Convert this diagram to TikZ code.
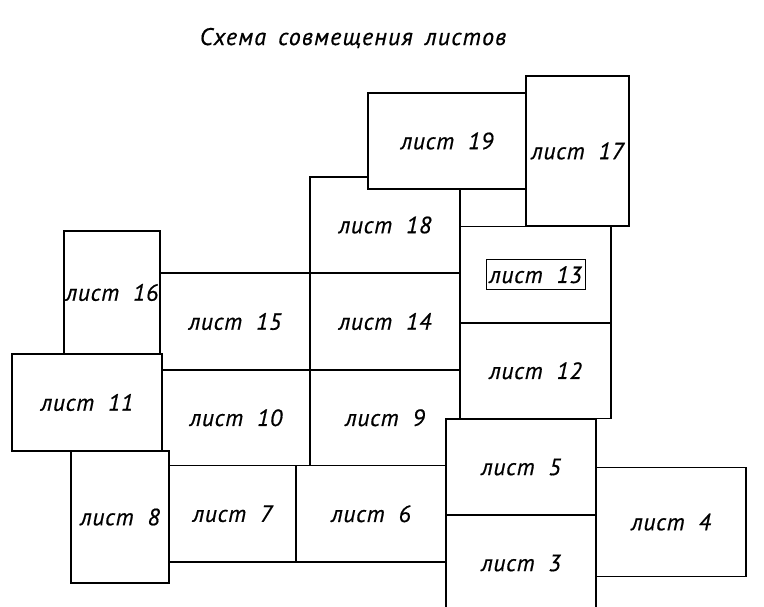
\documentclass[tikz,border=0pt]{standalone}
\usepackage{fontspec}
\newfontfamily\gost{PT Sans}[WordSpace=2.0, LetterSpace=3, FakeBold=0.6]
\newfontfamily\gostzag{PT Sans}[WordSpace=1.6, LetterSpace=5, FakeBold=0.6]
\usepackage{tikz}
\usetikzlibrary{positioning}

\begin{document}
\begin{tikzpicture}[x=1pt, y=-1pt,
    listok/.style={rectangle, draw=black, line width=1.1pt, fill=white, anchor=north west,
                   inner sep=0pt, outer sep=0pt, font=\gost\itshape\fontsize{23.5}{26}\selectfont},
    ramka/.style={rectangle, draw=black, line width=0.9pt, inner sep=0pt,
                  minimum width=99pt, minimum height=30pt, font=\gost\itshape\fontsize{23.5}{26}\selectfont}]
    \useasboundingbox (0,0) rectangle (764,606);
    \clip (0,0) rectangle (764,606);
    \node[font=\gostzag\itshape\fontsize{24}{26}\selectfont] (titul) at (353,38) {Схема совмещения листов};
    \node[listok, minimum width=96, minimum height=123] (l16) at (64,231) {лист 16};
    \node[listok, minimum width=150, minimum height=97] (l15) at (160,273) {лист 15};
    \node[listok, minimum width=150, minimum height=97] (l14) at (310,273) {лист 14};
    \node[listok, minimum width=150, minimum height=96] (l18) at (310,177) {лист 18};
    \node[listok, minimum width=158, minimum height=96] (l19) at (368,93) {лист 19};
    \node[listok, minimum width=103, minimum height=150] (l17) at (526,76) {лист 17};
    \node[listok, minimum width=151, minimum height=96.5] (l13) at (460,226.5) {};
    \node[ramka] (t13) at (l13.center) {лист 13};
    \node[listok, minimum width=151, minimum height=95.5] (l12) at (460,323) {лист 12};
    \node[listok, minimum width=150, minimum height=97] (l11) at (12,354) {лист 11};
    \node[listok, minimum width=148, minimum height=95.5] (l10) at (162,370) {лист 10};
    \node[listok, minimum width=150, minimum height=95.5] (l9) at (310,370) {лист 9};
    \node[listok, minimum width=98, minimum height=132] (l8) at (71,451) {лист 8};
    \node[listok, minimum width=127, minimum height=96.5] (l7) at (169,465.5) {лист 7};
    \node[listok, minimum width=150, minimum height=96.5] (l6) at (296,465.5) {лист 6};
    \node[listok, minimum width=150, minimum height=96] (l5) at (446,419) {лист 5};
    \node[listok, minimum width=150, minimum height=96] (l3) at (446,515) {лист 3};
    \node[listok, minimum width=150, minimum height=109] (l4) at (596,467.5) {лист 4};
  \end{tikzpicture}
\end{document}
